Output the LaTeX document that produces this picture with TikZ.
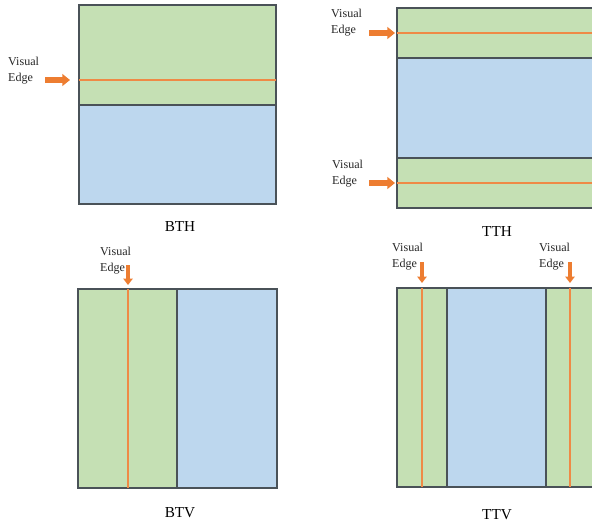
\documentclass[tikz,border=0pt]{standalone}
\usepackage{fontspec}
\setmainfont{Liberation Serif}
\usetikzlibrary{arrows.meta}
\usetikzlibrary{positioning}
\definecolor{panelgreen}{HTML}{C5E0B4}
\definecolor{panelblue}{HTML}{BDD7EE}
\definecolor{edgeorange}{HTML}{ED7D31}
\definecolor{rim}{HTML}{4A5258}

\begin{document}
\begin{tikzpicture}[
    x=0.03cm,y=-0.03cm,
    greenzone/.style={fill=panelgreen,draw=rim,line width=1.1pt},
    bluezone/.style={fill=panelblue,draw=rim,line width=1.1pt},
    vedge/.style={draw=edgeorange!90,line width=1pt},
    pointer/.style={draw=edgeorange,line width=4.5pt,-{Triangle[length=6.5pt,width=10pt]}},
    pointerv/.style={draw=edgeorange,line width=3.5pt,-{Triangle[length=5.5pt,width=8pt]}},
    lbl/.style={anchor=west,align=left,inner sep=0pt,text=black!85,font=\fontsize{10.3}{13.5}\selectfont},
    caption/.style={inner sep=0pt,font=\fontsize{13}{15}\selectfont}
    ]
    \clip (0,0) rectangle (592,524);
    % BTH
    \draw[greenzone] (79,5) rectangle (276,105);
    \draw[bluezone] (79,105) rectangle (276,204);
    \draw[vedge] (79,80) -- (276,80);
    \node (bthlbl) [lbl] at (8,71) {Visual\\Edge};
    \coordinate (bthtail) at (45,80);
    \coordinate (bthhead) at (70,80);
    \draw[pointer] (bthtail) -- (bthhead);
    \node (bth) [caption] at (180,227) {BTH};
    % TTH
    \draw[greenzone] (397,8) rectangle (597,58);
    \draw[bluezone] (397,58) rectangle (597,158);
    \draw[greenzone] (397,158) rectangle (597,208);
    \draw[vedge] (397,33) -- (597,33);
    \draw[vedge] (397,183) -- (597,183);
    \node (tthlbla) [lbl] at (331,23) {Visual\\Edge};
    \node (tthlblb) [lbl] at (332,174) {Visual\\Edge};
    \coordinate (tthtaila) at (369,33);
    \coordinate (tthheada) at (395,33);
    \coordinate (tthtailb) at (369,183);
    \coordinate (tthheadb) at (395,183);
    \draw[pointer] (tthtaila) -- (tthheada);
    \draw[pointer] (tthtailb) -- (tthheadb);
    \node (tth) [caption] at (497,232) {TTH};
    % BTV
    \draw[greenzone] (78,289) rectangle (177,488);
    \draw[bluezone] (177,289) rectangle (277,488);
    \draw[vedge] (128,289) -- (128,488);
    \node (btvlbl) [lbl] at (100,261) {Visual\\Edge};
    \coordinate (btvtail) at (128,265);
    \coordinate (btvhead) at (128,285);
    \draw[pointerv] (btvtail) -- (btvhead);
    \node (btv) [caption] at (180,513) {BTV};
    % TTV
    \draw[greenzone] (397,288) rectangle (447,487);
    \draw[bluezone] (447,288) rectangle (546,487);
    \draw[greenzone] (546,288) rectangle (597,487);
    \draw[vedge] (422,288) -- (422,487);
    \draw[vedge] (570,288) -- (570,487);
    \node (ttvlbla) [lbl] at (392,257) {Visual\\Edge};
    \node (ttvlblb) [lbl] at (539,257) {Visual\\Edge};
    \coordinate (ttvtaila) at (422,262);
    \coordinate (ttvheada) at (422,283);
    \coordinate (ttvtailb) at (570,262);
    \coordinate (ttvheadb) at (570,283);
    \draw[pointerv] (ttvtaila) -- (ttvheada);
    \draw[pointerv] (ttvtailb) -- (ttvheadb);
    \node (ttv) [caption] at (497,515) {TTV};
  \end{tikzpicture}
\end{document}
